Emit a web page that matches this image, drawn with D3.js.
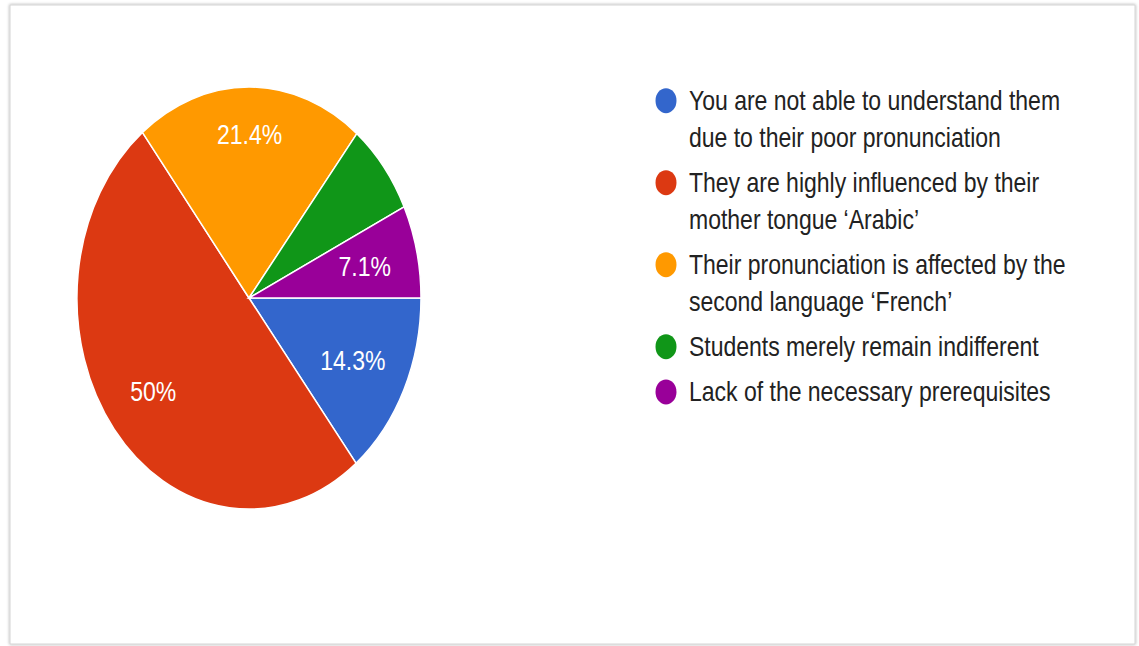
<!DOCTYPE html>
<html>
<head>
<meta charset="utf-8">
<script src="https://cdn.jsdelivr.net/npm/d3@7"></script>
<style>
  html, body { margin: 0; padding: 0; background: #ffffff; }
  svg { display: block; }
  text { font-family: "Liberation Sans", Arial, sans-serif; }
</style>
</head>
<body>
<svg id="chart" width="1139" height="646"></svg>
<script>
// Survey answers: why students' pronunciation causes difficulty
const categories = [
  "You are not able to understand them due to their poor pronunciation",
  "They are highly influenced by their mother tongue \u2018Arabic\u2019",
  "Their pronunciation is affected by the second language \u2018French\u2019",
  "Students merely remain indifferent",
  "Lack of the necessary prerequisites"
];
// Legend text broken into display lines
const legendLines = [
  ["You are not able to understand them", "due to their poor pronunciation"],
  ["They are highly influenced by their", "mother tongue \u2018Arabic\u2019"],
  ["Their pronunciation is affected by the", "second language \u2018French\u2019"],
  ["Students merely remain indifferent"],
  ["Lack of the necessary prerequisites"]
];
const values = [14.3, 50, 21.4, 7.1, 7.1];
const sliceLabels = ["14.3%", "50%", "21.4%", "", "7.1%"];
const colors = ["#3366cc", "#dc3912", "#ff9900", "#109618", "#990099"];

const svg = d3.select("#chart");

// Frame around the chart card
const defs = svg.append("defs");
const shadow = defs.append("filter").attr("id", "cardShadow")
  .attr("x", "-2%").attr("y", "-2%").attr("width", "104%").attr("height", "104%");
shadow.append("feDropShadow").attr("dx", 0).attr("dy", 0)
  .attr("stdDeviation", 1.5).attr("flood-color", "#000").attr("flood-opacity", 0.35);

svg.append("rect")
  .attr("x", 10).attr("y", 5).attr("width", 1125).attr("height", 639)
  .attr("fill", "#ffffff").attr("stroke", "#d4d4d4").attr("stroke-width", 1)
  .attr("filter", "url(#cardShadow)");

// Pie geometry (drawn as a slightly tall ellipse)
const cx = 249, cy = 298, rx = 172, ry = 211;
const sy = ry / rx;
const fontSize = 23;
const textStretch = 1.23;

const pie = d3.pie().sort(null).value(d => d)
  .startAngle(Math.PI / 2).endAngle(Math.PI / 2 + 2 * Math.PI);
const arcs = pie(values);
const arc = d3.arc().innerRadius(0).outerRadius(rx);

const pieG = svg.append("g")
  .attr("transform", `translate(${cx},${cy}) scale(1,${sy})`);

pieG.selectAll("path.slice")
  .data(arcs)
  .join("path")
  .attr("class", "slice")
  .attr("d", arc)
  .attr("fill", (d, i) => colors[i])
  .attr("stroke", "#ffffff")
  .attr("stroke-width", 1.5)
  .attr("vector-effect", "non-scaling-stroke");

// Slice value labels, placed along each slice's bisector
const labelRadii = [0.67, 0.71, 0.78, 0.7, 0.69];
svg.selectAll("text.slice-label")
  .data(arcs)
  .join("text")
  .attr("class", "slice-label")
  .attr("transform", (d, i) => {
    const a = (d.startAngle + d.endAngle) / 2;
    const r = rx * labelRadii[i];
    const x = cx + Math.sin(a) * r;
    const y = cy - Math.cos(a) * r * sy;
    return `translate(${x},${y}) scale(1,${textStretch})`;
  })
  .attr("text-anchor", "middle")
  .attr("dy", "0.36em")
  .attr("font-size", fontSize)
  .attr("fill", "#ffffff")
  .text((d, i) => sliceLabels[i]);

// Legend
const legendX = 666, legendTop = 100.7, lineH = 36.8, itemGap = 8.4;
let yCursor = legendTop;
const legendPos = legendLines.map(lines => {
  const y = yCursor;
  yCursor += lines.length * lineH + itemGap;
  return y;
});

const legend = svg.append("g");
const items = legend.selectAll("g.item")
  .data(legendLines)
  .join("g")
  .attr("class", "item")
  .attr("transform", (d, i) => `translate(${legendX},${legendPos[i]})`);

items.append("ellipse")
  .attr("rx", 10.5).attr("ry", 12.5)
  .attr("fill", (d, i) => colors[i]);

items.each(function (lines) {
  const g = d3.select(this);
  lines.forEach((ln, j) => {
    g.append("text")
      .attr("transform", `translate(23,${9.5 + j * lineH}) scale(1,${textStretch})`)
      .attr("font-size", fontSize)
      .attr("fill", "#222222")
      .text(ln);
  });
});
</script>
</body>
</html>
